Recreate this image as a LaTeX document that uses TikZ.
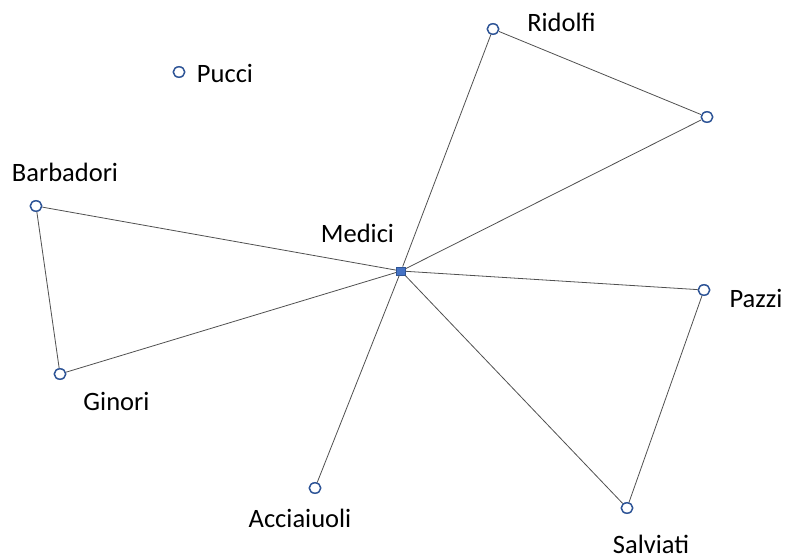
\documentclass[tikz,border=0pt]{standalone}
\usepackage{fontspec}
\setmainfont{Carlito}
\usetikzlibrary{shapes.geometric}
\definecolor{nodeblue}{HTML}{2F5597}
\definecolor{fillblue}{HTML}{4472C4}
\definecolor{edgegray}{HTML}{505050}
\begin{document}
\begin{tikzpicture}[x=1pt,y=-1pt,
  vert/.style={ellipse,draw=nodeblue,line width=1.5pt,fill=white,minimum width=11.5pt,minimum height=10.5pt,inner sep=0pt},
  hub/.style={rectangle,draw=nodeblue,line width=0.8pt,fill=fillblue,minimum width=9pt,minimum height=8pt,inner sep=0pt},
  edge/.style={draw=edgegray,line width=0.8pt},
  lbl/.style={font=\fontsize{26.5}{30}\selectfont,text=black,inner sep=0pt,anchor=base}]
\useasboundingbox (0,0) rectangle (787,558);
\node[hub] (medici) at (401,271) {};
\node[vert] (ridolfi) at (493,29) {};
\node[vert] (unnamed) at (707,117) {};
\node[vert] (pazzi) at (704,290) {};
\node[vert] (salviati) at (627,508) {};
\node[vert] (acciaiuoli) at (315,488) {};
\node[vert] (ginori) at (60,374) {};
\node[vert] (barbadori) at (36,206) {};
\node[vert] (pucci) at (179,72) {};
\draw[edge] (medici) -- (ridolfi);
\draw[edge] (medici) -- (unnamed);
\draw[edge] (ridolfi) -- (unnamed);
\draw[edge] (medici) -- (pazzi);
\draw[edge] (medici) -- (salviati);
\draw[edge] (pazzi) -- (salviati);
\draw[edge] (medici) -- (acciaiuoli);
\draw[edge] (medici) -- (ginori);
\draw[edge] (medici) -- (barbadori);
\draw[edge] (barbadori) -- (ginori);
\node[lbl] (lridolfi) at (561.5,31) {Ridolfi};
\node[lbl] (lpucci) at (225,82) {Pucci};
\node[lbl] (lbarbadori) at (65,181) {Barbadori};
\node[lbl] (lmedici) at (357.5,242) {Medici};
\node[lbl] (lpazzi) at (756,307) {Pazzi};
\node[lbl] (lginori) at (116.5,410) {Ginori};
\node[lbl] (lacciaiuoli) at (300,527) {Acciaiuoli};
\node[lbl] (lsalviati) at (651,553) {Salviati};
\end{tikzpicture}
\end{document}
